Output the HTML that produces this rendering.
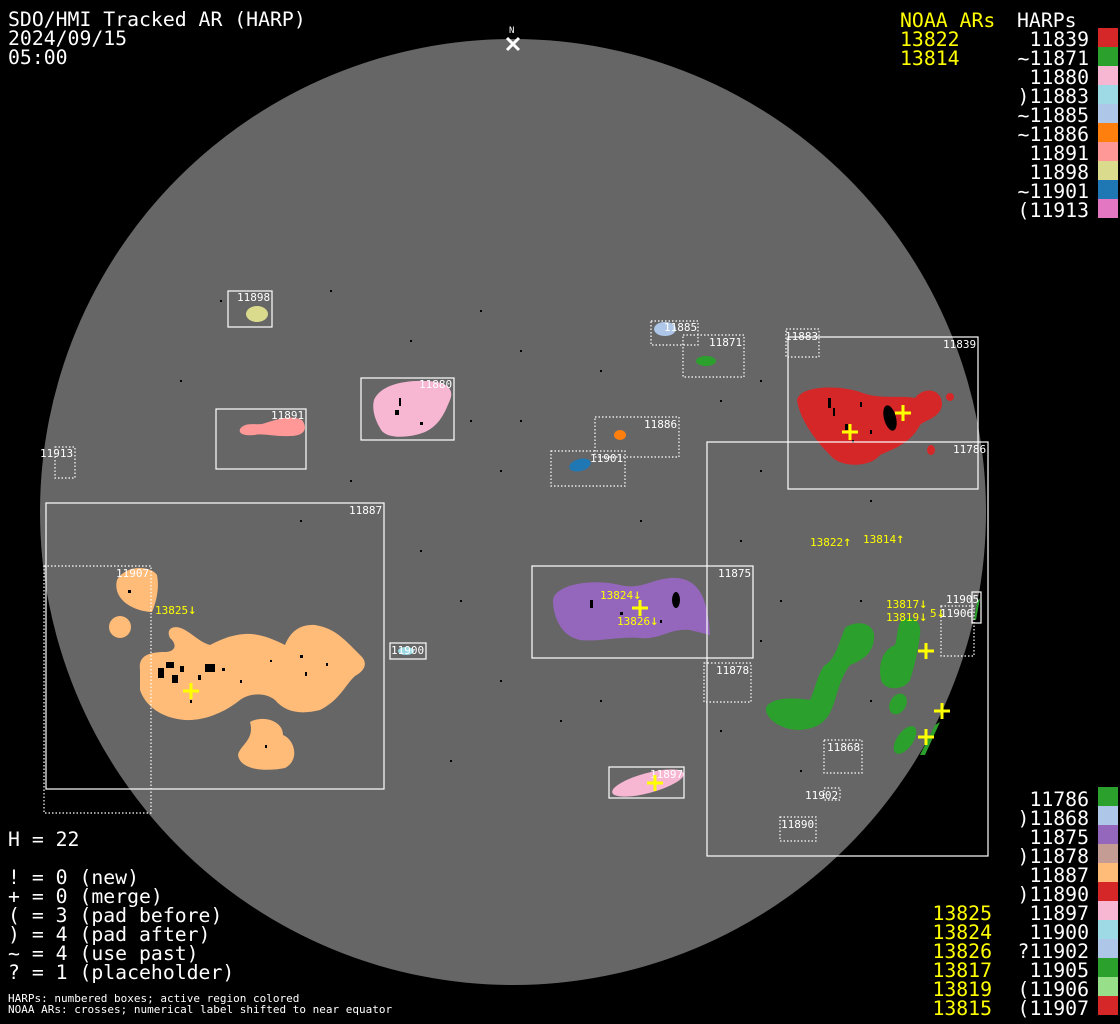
<!DOCTYPE html>
<html><head><meta charset="utf-8"><style>
html,body{margin:0;padding:0;background:#000;}
svg{display:block;}
text{font-family:"DejaVu Sans Mono","Liberation Mono",monospace;}
.t{fill:#fff;font-size:19.8px;}
.y{fill:#ffff00;font-size:19.8px;}
.l{fill:#fff;font-size:11px;}
.yl{fill:#ffff00;font-size:11px;}
.b{fill:none;stroke:#fff;stroke-width:1.2;}
.d{fill:none;stroke:#fff;stroke-width:1.2;stroke-dasharray:1.5 2;}
.c{stroke:#ffff00;stroke-width:3;}
</style></head><body>
<svg width="1120" height="1024" viewBox="0 0 1120 1024" xmlns="http://www.w3.org/2000/svg">
<rect width="1120" height="1024" fill="#000"/>
<circle cx="513" cy="512" r="473" fill="#666"/>

<!-- speckles -->
<g fill="#000">
<rect x="220" y="300" width="2" height="2"/><rect x="330" y="290" width="2" height="2"/><rect x="480" y="310" width="2" height="2"/>
<rect x="520" y="350" width="2" height="2"/><rect x="600" y="370" width="2" height="2"/><rect x="470" y="420" width="2" height="2"/>
<rect x="500" y="470" width="2" height="2"/><rect x="350" y="480" width="2" height="2"/><rect x="180" y="380" width="2" height="2"/>
<rect x="420" y="550" width="2" height="2"/><rect x="460" y="600" width="2" height="2"/><rect x="500" y="680" width="2" height="2"/>
<rect x="560" y="720" width="2" height="2"/><rect x="450" y="760" width="2" height="2"/><rect x="740" y="540" width="2" height="2"/>
<rect x="780" y="600" width="2" height="2"/><rect x="760" y="640" width="2" height="2"/><rect x="860" y="600" width="2" height="2"/>
<rect x="870" y="500" width="2" height="2"/><rect x="760" y="470" width="2" height="2"/><rect x="640" y="520" width="2" height="2"/>
<rect x="520" y="420" width="2" height="2"/><rect x="410" y="340" width="2" height="2"/><rect x="300" y="520" width="2" height="2"/>
<rect x="720" y="400" width="2" height="2"/><rect x="760" y="380" width="2" height="2"/><rect x="870" y="700" width="2" height="2"/>
<rect x="800" y="770" width="2" height="2"/><rect x="720" y="730" width="2" height="2"/><rect x="600" y="700" width="2" height="2"/>
</g>

<!-- blobs -->
<path d="M797,400 C800,385 840,385 860,392 C880,400 900,395 915,398 C925,385 943,390 942,405 C940,418 925,420 920,425 C910,445 890,450 880,455 C870,468 840,468 830,455 C815,440 800,420 797,400 Z" fill="#d62728"/>
<ellipse cx="950" cy="397" rx="4" ry="4" fill="#d62728"/>
<ellipse cx="931" cy="450" rx="4" ry="5" fill="#d62728"/>
<ellipse cx="890" cy="418" rx="6" ry="13" transform="rotate(-15 890 418)" fill="#000"/>
<g fill="#000">
<rect x="828" y="398" width="3" height="10"/><rect x="833" y="408" width="2" height="8"/><rect x="845" y="424" width="3" height="6"/>
<rect x="860" y="402" width="2" height="5"/><rect x="852" y="440" width="2" height="3"/><rect x="870" y="430" width="2" height="4"/>
</g>

<path d="M140,670 C138,655 150,652 165,652 C175,652 178,645 170,638 C165,628 175,624 185,630 C195,636 200,642 210,645 C220,640 230,635 245,634 C260,633 275,640 285,645 C290,632 300,624 315,625 C335,628 345,640 360,655 C368,662 366,670 355,676 C345,685 340,700 320,710 C300,715 285,712 275,700 C265,692 250,693 240,700 C225,712 205,721 185,720 C160,718 145,705 140,690 Z" fill="#ffbb78"/>
<path d="M117,580 C125,565 150,565 157,575 C160,590 155,605 152,612 C135,612 112,600 117,580 Z" fill="#ffbb78"/>
<circle cx="120" cy="627" r="11" fill="#ffbb78"/>
<path d="M250,722 C262,715 283,720 283,735 C295,740 300,760 285,768 C265,772 240,770 238,755 C240,745 255,740 250,722 Z" fill="#ffbb78"/>
<g fill="#000">
<rect x="158" y="668" width="6" height="10"/><rect x="166" y="662" width="8" height="6"/><rect x="172" y="675" width="6" height="8"/>
<rect x="180" y="666" width="4" height="6"/><rect x="205" y="664" width="10" height="8"/><rect x="198" y="675" width="3" height="5"/>
<rect x="222" y="668" width="3" height="3"/><rect x="240" y="680" width="2" height="3"/><rect x="300" y="655" width="3" height="3"/>
<rect x="305" y="672" width="2" height="4"/><rect x="326" y="663" width="2" height="3"/><rect x="265" y="745" width="2" height="3"/>
<rect x="128" y="590" width="3" height="3"/><rect x="190" y="700" width="2" height="3"/><rect x="270" y="660" width="2" height="2"/>
</g>

<path d="M553,600 C555,585 590,578 620,585 C640,590 650,580 670,578 C700,576 708,600 710,635 L690,630 C670,628 660,640 640,638 C620,636 600,642 580,640 C560,636 553,615 553,600 Z" fill="#9467bd"/>
<ellipse cx="676" cy="600" rx="4" ry="8" fill="#000"/>
<g fill="#000"><rect x="590" y="600" width="3" height="8"/><rect x="620" y="612" width="3" height="3"/><rect x="660" y="620" width="2" height="3"/></g>

<path d="M374,400 C380,385 405,380 425,381 C445,381 455,388 450,400 C445,412 440,425 425,432 C410,438 385,440 380,428 C374,418 372,408 374,400 Z" fill="#f7b6d2"/>
<g fill="#000"><rect x="395" y="410" width="4" height="5"/><rect x="399" y="398" width="2" height="8"/><rect x="420" y="422" width="3" height="3"/></g>
<ellipse cx="648" cy="783" rx="37" ry="10" transform="rotate(-15 648 783)" fill="#f7b6d2"/>
<path d="M240,429 C245,422 255,425 262,424 C275,420 290,414 302,420 C308,428 305,436 290,436 C275,437 262,433 255,435 C245,436 238,434 240,429 Z" fill="#ff9896"/>
<ellipse cx="257" cy="314" rx="11" ry="8" fill="#dbdb8d"/>
<ellipse cx="665" cy="329" rx="11" ry="7" fill="#aec7e8"/>
<ellipse cx="706" cy="361" rx="10" ry="5" fill="#2ca02c"/>
<ellipse cx="620" cy="435" rx="6" ry="5" fill="#ff7f0e"/>
<ellipse cx="580" cy="465" rx="11" ry="6" transform="rotate(-15 580 465)" fill="#1f77b4"/>
<ellipse cx="406" cy="651" rx="8" ry="4" fill="#9edae5"/>

<!-- green 11786 -->
<path d="M766,708 C770,698 790,697 810,700 C815,690 818,672 825,665 C835,660 840,640 845,628 C855,620 873,622 874,635 C875,650 865,660 850,665 C842,675 838,690 835,700 C830,715 825,728 800,730 C780,730 765,718 766,708 Z" fill="#2ca02c"/>
<path d="M902,620 C912,615 922,620 920,635 C918,650 915,665 910,680 C905,690 885,692 881,680 C878,665 882,650 895,645 C898,635 897,625 902,620 Z" fill="#2ca02c"/>
<ellipse cx="898" cy="704" rx="8" ry="11" transform="rotate(30 898 704)" fill="#2ca02c"/>
<ellipse cx="905" cy="740" rx="8" ry="16" transform="rotate(35 905 740)" fill="#2ca02c"/>
<path d="M920,755 L935,725 L940,722 L925,755 Z" fill="#2ca02c"/>
<path d="M977,602 L980,598 L976,620 L974,620Z" fill="#2ca02c"/>

<!-- boxes -->
<rect class="b" x="228" y="291" width="44" height="36"/>
<rect class="b" x="361" y="378" width="93" height="62"/>
<rect class="b" x="216" y="409" width="90" height="60"/>
<rect class="d" x="55" y="447" width="20" height="31"/>
<rect class="b" x="46" y="503" width="338" height="286"/>
<rect class="d" x="44" y="566" width="107" height="247"/>
<rect class="b" x="390" y="643" width="36" height="16"/>
<rect class="b" x="532" y="566" width="221" height="92"/>
<rect class="b" x="609" y="767" width="75" height="31"/>
<rect class="d" x="651" y="321" width="47" height="24"/>
<rect class="d" x="683" y="335" width="61" height="42"/>
<rect class="d" x="595" y="417" width="84" height="40"/>
<rect class="d" x="551" y="451" width="74" height="35"/>
<rect class="d" x="786" y="329" width="33" height="28"/>
<rect class="b" x="788" y="337" width="190" height="152"/>
<rect class="b" x="707" y="442" width="281" height="414"/>
<rect class="d" x="704" y="663" width="47" height="39"/>
<rect class="d" x="824" y="740" width="38" height="33"/>
<rect class="d" x="824" y="788" width="16" height="12"/>
<rect class="d" x="780" y="817" width="36" height="24"/>
<rect class="b" x="972" y="592" width="9" height="31"/>
<rect class="d" x="941" y="606" width="33" height="50"/>

<!-- box labels -->
<text class="l" x="237" y="301">11898</text>
<text class="l" x="419" y="388">11880</text>
<text class="l" x="271" y="419">11891</text>
<text class="l" x="40" y="457">11913</text>
<text class="l" x="349" y="514">11887</text>
<text class="l" x="116" y="577">11907</text>
<text class="l" x="391" y="654">11900</text>
<text class="l" x="718" y="577">11875</text>
<text class="l" x="650" y="778">11897</text>
<text class="l" x="664" y="331">11885</text>
<text class="l" x="709" y="346">11871</text>
<text class="l" x="644" y="428">11886</text>
<text class="l" x="590" y="462">11901</text>
<text class="l" x="785" y="340">11883</text>
<text class="l" x="943" y="348">11839</text>
<text class="l" x="953" y="453">11786</text>
<text class="l" x="716" y="674">11878</text>
<text class="l" x="827" y="751">11868</text>
<text class="l" x="805" y="799">11902</text>
<text class="l" x="781" y="828">11890</text>
<text class="l" x="946" y="603">11905</text>
<text class="l" x="940" y="617">11906</text>

<!-- NOAA labels -->
<text class="yl" x="155" y="614">13825<tspan font-size="14">↓</tspan></text>
<text class="yl" x="600" y="599">13824<tspan font-size="14">↓</tspan></text>
<text class="yl" x="617" y="625">13826<tspan font-size="14">↓</tspan></text>
<text class="yl" x="810" y="546">13822<tspan font-size="14">↑</tspan></text>
<text class="yl" x="863" y="543">13814<tspan font-size="14">↑</tspan></text>
<text class="yl" x="886" y="608">13817<tspan font-size="14">↓</tspan></text>
<text class="yl" x="886" y="621">13819<tspan font-size="14">↓</tspan></text>
<text class="yl" x="930" y="617">5<tspan font-size="14">↓</tspan></text>

<!-- crosses -->
<g class="c">
<path d="M842,432h16M850,424v16"/>
<path d="M895,413h16M903,405v16"/>
<path d="M183,691h16M191,683v16"/>
<path d="M632,608h16M640,600v16"/>
<path d="M647,783h16M655,775v16"/>
<path d="M918,651h16M926,643v16"/>
<path d="M934,711h16M942,703v16"/>
<path d="M918,737h16M926,729v16"/>
</g>

<!-- N marker -->
<text x="509" y="33" style="fill:#fff;font-size:9px">N</text>
<path d="M507,38l12,12M519,38l-12,12" stroke="#fff" stroke-width="3"/>

<!-- header text -->
<text class="t" x="8" y="26">SDO/HMI Tracked AR (HARP)</text>
<text class="t" x="8" y="45">2024/09/15</text>
<text class="t" x="8" y="64">05:00</text>

<text class="y" x="900" y="27">NOAA ARs</text>
<text class="y" x="900" y="46">13822</text>
<text class="y" x="900" y="65">13814</text>
<text class="t" x="1017" y="27">HARPs</text>

<g text-anchor="end">
<text class="t" x="1089" y="46">11839</text>
<text class="t" x="1089" y="65">~11871</text>
<text class="t" x="1089" y="84">11880</text>
<text class="t" x="1089" y="103">)11883</text>
<text class="t" x="1089" y="122">~11885</text>
<text class="t" x="1089" y="141">~11886</text>
<text class="t" x="1089" y="160">11891</text>
<text class="t" x="1089" y="179">11898</text>
<text class="t" x="1089" y="198">~11901</text>
<text class="t" x="1089" y="217">(11913</text>

<text class="t" x="1089" y="806">11786</text>
<text class="t" x="1089" y="825">)11868</text>
<text class="t" x="1089" y="844">11875</text>
<text class="t" x="1089" y="863">)11878</text>
<text class="t" x="1089" y="882">11887</text>
<text class="t" x="1089" y="901">)11890</text>
<text class="t" x="1089" y="920">11897</text>
<text class="t" x="1089" y="939">11900</text>
<text class="t" x="1089" y="958">?11902</text>
<text class="t" x="1089" y="977">11905</text>
<text class="t" x="1089" y="996">(11906</text>
<text class="t" x="1089" y="1015">(11907</text>

<text class="y" x="992" y="920">13825</text>
<text class="y" x="992" y="939">13824</text>
<text class="y" x="992" y="958">13826</text>
<text class="y" x="992" y="977">13817</text>
<text class="y" x="992" y="996">13819</text>
<text class="y" x="992" y="1015">13815</text>
</g>

<!-- swatches -->
<rect x="1098" y="28" width="20" height="19" fill="#d62728"/>
<rect x="1098" y="47" width="20" height="19" fill="#2ca02c"/>
<rect x="1098" y="66" width="20" height="19" fill="#f7b6d2"/>
<rect x="1098" y="85" width="20" height="19" fill="#9edae5"/>
<rect x="1098" y="104" width="20" height="19" fill="#aec7e8"/>
<rect x="1098" y="123" width="20" height="19" fill="#ff7f0e"/>
<rect x="1098" y="142" width="20" height="19" fill="#ff9896"/>
<rect x="1098" y="161" width="20" height="19" fill="#dbdb8d"/>
<rect x="1098" y="180" width="20" height="19" fill="#1f77b4"/>
<rect x="1098" y="199" width="20" height="19" fill="#e377c2"/>

<rect x="1098" y="787" width="20" height="19" fill="#2ca02c"/>
<rect x="1098" y="806" width="20" height="19" fill="#aec7e8"/>
<rect x="1098" y="825" width="20" height="19" fill="#9467bd"/>
<rect x="1098" y="844" width="20" height="19" fill="#c49c94"/>
<rect x="1098" y="863" width="20" height="19" fill="#ffbb78"/>
<rect x="1098" y="882" width="20" height="19" fill="#d62728"/>
<rect x="1098" y="901" width="20" height="19" fill="#f7b6d2"/>
<rect x="1098" y="920" width="20" height="19" fill="#9edae5"/>
<rect x="1098" y="939" width="20" height="19" fill="#aec7e8"/>
<rect x="1098" y="958" width="20" height="19" fill="#2ca02c"/>
<rect x="1098" y="977" width="20" height="19" fill="#98df8a"/>
<rect x="1098" y="996" width="20" height="19" fill="#d62728"/>

<!-- bottom-left -->
<text class="t" x="8" y="846">H = 22</text>
<text class="t" x="8" y="884">! = 0 (new)</text>
<text class="t" x="8" y="903">+ = 0 (merge)</text>
<text class="t" x="8" y="922">( = 3 (pad before)</text>
<text class="t" x="8" y="941">) = 4 (pad after)</text>
<text class="t" x="8" y="960">~ = 4 (use past)</text>
<text class="t" x="8" y="979">? = 1 (placeholder)</text>
<text class="l" x="8" y="1002">HARPs: numbered boxes; active region colored</text>
<text class="l" x="8" y="1013">NOAA ARs: crosses; numerical label shifted to near equator</text>
</svg>
</body></html>
